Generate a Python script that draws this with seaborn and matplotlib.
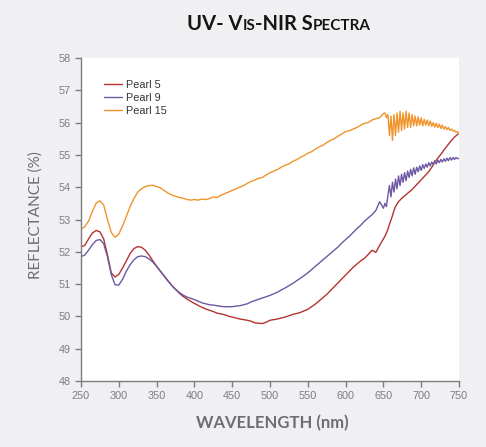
import numpy as np
import pandas as pd
import seaborn as sns
import matplotlib.pyplot as plt

# wavelength grid: 5 nm steps to 650, then 2 nm steps (the noisy NIR tail)
wl = list(range(250, 651, 5)) + list(range(652, 751, 2))

pearl5 = [
    52.15, 52.20, 52.40, 52.58, 52.66, 52.62, 52.40, 51.90, 51.35, 51.22,
    51.30, 51.50, 51.72, 51.95, 52.10, 52.16, 52.14, 52.05, 51.90, 51.72,
    51.55, 51.40, 51.25, 51.10, 50.96, 50.84, 50.72, 50.62, 50.54, 50.47,
    50.40, 50.34, 50.28, 50.23, 50.19, 50.15, 50.10, 50.08, 50.05, 50.01,
    49.98, 49.95, 49.92, 49.90, 49.88, 49.85, 49.80, 49.79, 49.78, 49.82,
    49.88, 49.90, 49.92, 49.95, 49.98, 50.02, 50.06, 50.09, 50.12, 50.17,
    50.22, 50.30, 50.38, 50.48, 50.58, 50.68, 50.80, 50.92, 51.04, 51.16,
    51.28, 51.40, 51.52, 51.62, 51.72, 51.80, 51.92, 52.05, 51.98, 52.20,
    52.40,
    52.48, 52.58, 52.70, 52.85, 52.98, 53.12, 53.28, 53.40, 53.48, 53.55,
    53.60, 53.65, 53.69, 53.73, 53.77, 53.81, 53.85, 53.89, 53.93, 53.98,
    54.03, 54.08, 54.13, 54.18, 54.23, 54.28, 54.33, 54.38, 54.43, 54.48,
    54.55, 54.62, 54.70, 54.77, 54.84, 54.90, 54.96, 55.02, 55.08, 55.15,
    55.21, 55.27, 55.33, 55.39, 55.45, 55.50, 55.55, 55.59, 55.63, 55.67,
]

pearl9 = [
    51.85, 51.90, 52.05, 52.22, 52.35, 52.38, 52.25, 51.85, 51.30, 50.98,
    50.97, 51.15, 51.40, 51.60, 51.75, 51.85, 51.87, 51.85, 51.78, 51.68,
    51.55, 51.40, 51.25, 51.10, 50.96, 50.84, 50.74, 50.66, 50.60, 50.56,
    50.52, 50.47, 50.42, 50.39, 50.36, 50.35, 50.33, 50.31, 50.30, 50.30,
    50.30, 50.32, 50.33, 50.36, 50.39, 50.45, 50.49, 50.53, 50.57, 50.61,
    50.65, 50.70, 50.75, 50.82, 50.88, 50.95, 51.02, 51.10, 51.18, 51.26,
    51.35, 51.45, 51.55, 51.65, 51.75, 51.85, 51.95, 52.05, 52.15, 52.27,
    52.38, 52.48, 52.60, 52.72, 52.82, 52.95, 53.05, 53.15, 53.28, 53.55,
    53.35,
    53.50, 53.40, 53.75, 54.05, 53.70, 54.15, 53.85, 54.25, 53.95, 54.35,
    54.05, 54.40, 54.15, 54.45, 54.20, 54.50, 54.30, 54.55, 54.35, 54.60,
    54.40, 54.62, 54.48, 54.66, 54.52, 54.70, 54.58, 54.72, 54.62, 54.76,
    54.66, 54.78, 54.70, 54.82, 54.72, 54.84, 54.76, 54.86, 54.78, 54.88,
    54.80, 54.90, 54.82, 54.92, 54.84, 54.92, 54.86, 54.92, 54.88, 54.90,
]

pearl15 = [
    52.70, 52.78, 52.95, 53.25, 53.50, 53.58, 53.45, 53.00, 52.60, 52.45,
    52.55, 52.80, 53.10, 53.40, 53.65, 53.85, 53.95, 54.02, 54.05, 54.06,
    54.02, 53.98, 53.90, 53.82, 53.76, 53.72, 53.68, 53.66, 53.62, 53.60,
    53.62, 53.60, 53.63, 53.62, 53.65, 53.70, 53.68, 53.75, 53.80, 53.85,
    53.90, 53.95, 54.00, 54.05, 54.12, 54.18, 54.22, 54.28, 54.30, 54.38,
    54.45, 54.50, 54.55, 54.62, 54.68, 54.72, 54.80, 54.85, 54.92, 54.98,
    55.05, 55.10, 55.18, 55.25, 55.30, 55.38, 55.45, 55.50, 55.58, 55.65,
    55.72, 55.75, 55.80, 55.85, 55.92, 55.98, 56.00, 56.08, 56.12, 56.15,
    56.28,
    56.30, 56.15, 56.25, 55.60, 56.20, 55.45, 56.25, 55.60, 56.30, 55.70,
    56.35, 55.75, 56.30, 55.80, 56.35, 55.85, 56.30, 55.85, 56.25, 55.90,
    56.20, 55.90, 56.18, 55.92, 56.15, 55.90, 56.10, 55.92, 56.08, 55.90,
    56.05, 55.88, 56.00, 55.86, 55.98, 55.85, 55.95, 55.82, 55.92, 55.80,
    55.88, 55.78, 55.85, 55.76, 55.80, 55.74, 55.76, 55.70, 55.72, 55.65,
]

names = ["Pearl 5", "Pearl 9", "Pearl 15"]
colors = ["#b3342e", "#6e57a3", "#f0932b"]
xticks = list(range(250, 751, 50))
yticks = list(range(48, 59))

df = pd.concat([
    pd.DataFrame({"wavelength": wl, "reflectance": vals, "sample": n})
    for n, vals in zip(names, [pearl5, pearl9, pearl15])
])

sns.set_style("ticks")
plt.rcParams['font.family'] = ['Liberation Sans', 'DejaVu Sans']

bg = "#f0f0f2"
grey = "#7d7d7f"
fig = plt.figure(figsize=(4.86, 4.47), dpi=100, facecolor=bg)
ax = fig.add_axes([81 / 486, 1 - 381 / 447, 378 / 486, 323 / 447])
ax.set_facecolor("white")

sns.lineplot(data=df, x="wavelength", y="reflectance", hue="sample",
             palette=dict(zip(names, colors)), estimator=None, sort=False,
             linewidth=1.0, ax=ax)

ax.set_xlim(250, 750)
ax.set_ylim(48, 58)
ax.set_xticks(xticks)
ax.set_yticks(yticks)
ax.tick_params(colors=grey, labelcolor=grey, labelsize=7.8, length=4, width=1)
sns.despine(ax=ax)
for s in ["left", "bottom"]:
    ax.spines[s].set_color(grey)
    ax.spines[s].set_linewidth(1)

ax.set_xlabel("")
ax.set_ylabel("")
fig.text(272 / 486, 1 - 423 / 447, "WAVELENGTH (nm)", ha="center", va="center",
         fontsize=12, fontweight="bold", family="Lato", color="#6d6e71")
fig.text(36 / 486, 1 - 215 / 447, "REFLECTANCE (%)", ha="center", va="center",
         rotation=90, fontsize=11, family="Lato", color="#6d6e71")

leg = ax.legend(loc="upper left", bbox_to_anchor=(0.05, 0.945), frameon=False,
                fontsize=7.8, handlelength=1.6, handletextpad=0.45,
                labelspacing=0.25, borderaxespad=0)
for t in leg.get_texts():
    t.set_color("#333333")

# title in small caps, built from pieces
fig.canvas.draw()
r = fig.canvas.get_renderer()
pieces = [("UV- V", 14.5), ("IS", 11), ("-NIR S", 14.5), ("PECTRA", 11)]
objs = []
for s, fs in pieces:
    objs.append(fig.text(0, 1 - 30 / 447, s, fontsize=fs, fontweight="bold",
                         family="Lato", color="#151515", ha="left", va="baseline"))
widths = [o.get_window_extent(r).width for o in objs]
x = 279 - sum(widths) / 2
for o, w in zip(objs, widths):
    o.set_x(x / 486)
    x += w

fig.savefig("out.png", dpi=100, facecolor=bg)
